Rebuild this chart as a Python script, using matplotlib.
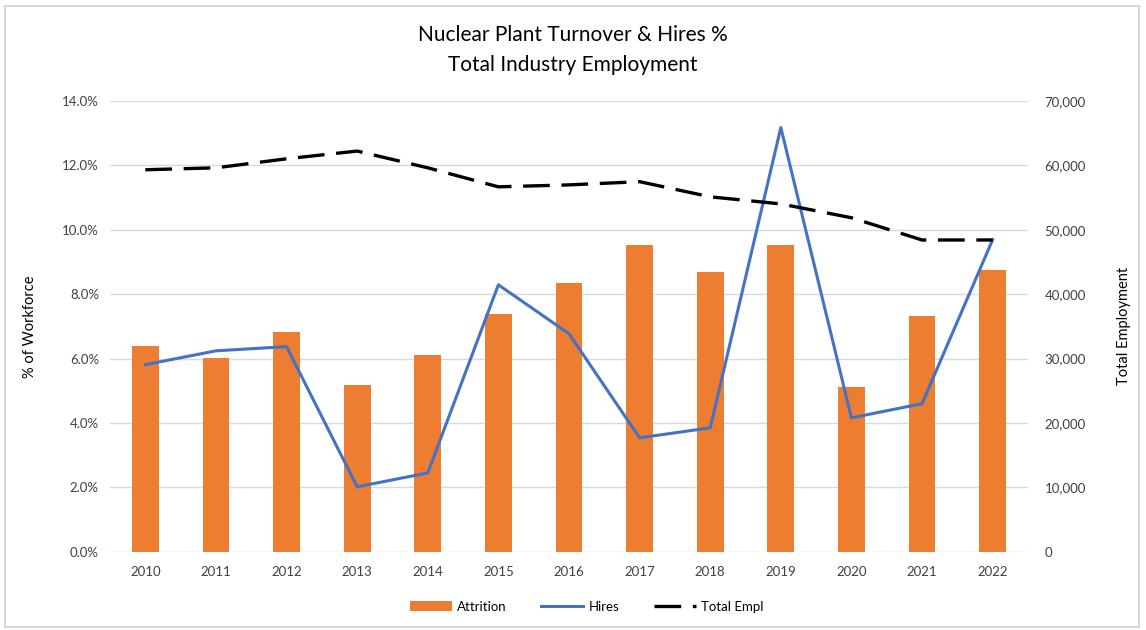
import matplotlib
matplotlib.use("Agg")
import matplotlib.pyplot as plt
import matplotlib.ticker as ticker
from matplotlib.patches import Rectangle

plt.rcParams["font.family"] = ["Lato", "DejaVu Sans"]

# ── Datos ─────────────────────────────────────────────
years = ["2010", "2011", "2012", "2013", "2014", "2015", "2016",
         "2017", "2018", "2019", "2020", "2021", "2022"]
attrition = [6.40, 6.02, 6.83, 5.19, 6.12, 7.39, 8.35,
             9.53, 8.70, 9.53, 5.12, 7.33, 8.76]
hires = [5.81, 6.24, 6.37, 2.02, 2.45, 8.29, 6.77,
         3.54, 3.85, 13.17, 4.16, 4.60, 9.69]
total_empl = [59300, 59600, 61000, 62200, 59600, 56650, 56950,
              57450, 55100, 54000, 51850, 48400, 48400]

ORANGE = "#ED7D31"
BLUE = "#4472C4"
GRID = "#D9D9D9"
TXT = "#404040"

fig = plt.figure(figsize=(11.46, 6.3), dpi=100)
ax = fig.add_axes([0.096, 0.124, 0.801, 0.716])
ax2 = ax.twinx()

x = list(range(len(years)))
bars = ax.bar(x, attrition, width=0.38, color=ORANGE, zorder=3, label="Attrition")
ln_h, = ax.plot(x, hires, color=BLUE, lw=2.2, zorder=4, label="Hires")
ln_t, = ax2.plot(x, total_empl, color="black", lw=2.4,
                 dashes=(8, 3.5), zorder=5, label="Total Empl")

ax.set_ylim(0, 14)
ax.set_yticks([0, 2, 4, 6, 8, 10, 12, 14])
ax.yaxis.set_major_formatter(ticker.FuncFormatter(lambda v, p: f"{v:.1f}%"))
ax2.set_ylim(0, 70000)
ax2.set_yticks(range(0, 70001, 10000))
ax2.yaxis.set_major_formatter(ticker.FuncFormatter(lambda v, p: f"{int(v):,}"))

ax.set_xlim(-0.5, len(years) - 0.5)
ax.set_xticks(x)
ax.set_xticklabels(years)

ax.grid(axis="y", color=GRID, lw=1.0, zorder=0)
ax.set_axisbelow(True)
for a in (ax, ax2):
    for s in a.spines.values():
        s.set_visible(False)
    a.tick_params(length=0, labelsize=9.5, colors=TXT, pad=8)
ax.tick_params(axis="x", pad=10)
ax2.tick_params(axis="y", pad=12)

ax.set_ylabel("% of Workforce", fontsize=10.5, color="black", labelpad=18)
ax2.set_ylabel("Total Employment", fontsize=10.5, color="black", labelpad=22)

fig.text(0.5, 0.945, "Nuclear Plant Turnover & Hires %", ha="center",
         va="center", fontsize=15)
fig.text(0.5, 0.897, "Total Industry Employment", ha="center",
         va="center", fontsize=15)

fig.legend(handles=[bars, ln_h, ln_t], loc="center", bbox_to_anchor=(0.512, 0.037),
           ncol=3, frameon=False, fontsize=9.5, handlelength=3.2,
           columnspacing=2.6, handletextpad=0.4)

fig.patches.append(Rectangle((0.004, 0.005), 0.99, 0.985, transform=fig.transFigure,
                             fill=False, edgecolor="#D0D0D0", lw=1.2))

fig.savefig("out.png", dpi=100)
